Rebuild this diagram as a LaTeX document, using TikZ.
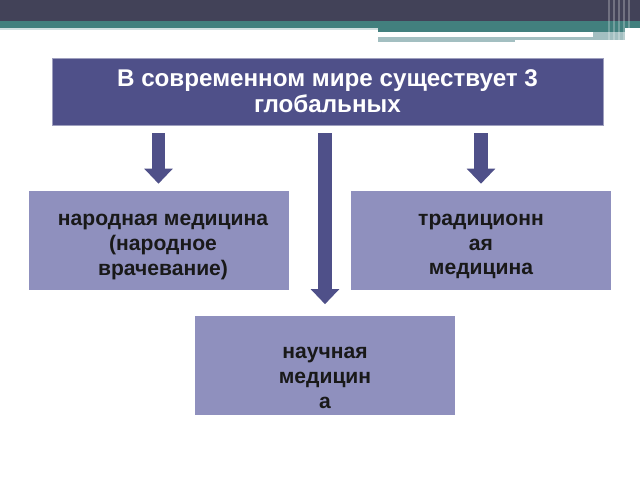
\documentclass[tikz,border=0pt]{standalone}
\usepackage{fontspec}
\setmainfont{Liberation Sans}
\usepackage{tikz}
\usetikzlibrary{arrows.meta}
\usetikzlibrary{positioning}
\usetikzlibrary{calc}
\definecolor{headdark}{HTML}{424258}
\definecolor{headteal}{HTML}{42807E}
\definecolor{headpale}{HTML}{A3BFC1}
\definecolor{titleblue}{HTML}{4F5089}
\definecolor{cardblue}{HTML}{8F90BE}
\tikzstyle{titlebox}=[rectangle,fill=titleblue,draw=titleblue!55,minimum width=13.775cm,minimum height=1.675cm,inner sep=0pt,align=center,text=white,font=\fontsize{17.2}{18.5}\selectfont\bfseries]
\tikzstyle{card}=[rectangle,fill=cardblue,draw=white,minimum width=6.525cm,minimum height=2.5cm,inner sep=0pt]
\tikzstyle{cardtext}=[align=center,inner sep=0pt,text=black!90,font=\fontsize{15}{17.5}\selectfont\bfseries]
\tikzstyle{blockarrow}=[draw=titleblue,line width=0.33cm,-{Triangle[width=0.7cm,length=0.38cm,fill=titleblue]}]

\begin{document}
\begin{tikzpicture}[x=0.025cm,y=-0.025cm]
\useasboundingbox (0,0) rectangle (640,480);

    % header band
    \fill[headdark] (0,0) rectangle (640,21);
    \fill[headteal] (0,21) rectangle (640,28);
    \fill[headteal] (378,28) rectangle (625,32);
    \fill[headpale!50] (0,28) rectangle (378,30);
    \fill[headpale] (378,36.5) rectangle (515,42);
    \fill[headpale] (515,36.5) rectangle (593,40);
    \fill[headpale] (593,32) rectangle (625,40);
    \foreach \x in {608,613,618,623,628}
        \fill[white,opacity=0.25] (\x,0) rectangle (\x+2,42);

    % First we draw the boxes
    \node[titlebox] (title) at (327.5,91.5) {В современном мире существует 3\\глобальных};
    \foreach \pos/\name in {{(158.5,240)/folk}, {(481,240)/trad}, {(325,365.5)/sci}}
        \node[card] (\name) at \pos {};

    % texts of the boxes
    \node[cardtext] (folktext) at (163,247) {народная медицина\\(народное\\врачевание)};
    \node[cardtext] (tradtext) at (481,246.5) {традиционн\\ая\\медицина};
    \node[cardtext] (scitext) at (325,378) {научная\\медицин\\а};

    % Connect title with boxes
    \foreach \dest/\gap in {folk/6, trad/6, sci/11}
        \draw[blockarrow] ($(title.south -| \dest.north)+(0,8)$) -- ($(\dest.north)+(0,-\gap)$);

\end{tikzpicture}
\end{document}
